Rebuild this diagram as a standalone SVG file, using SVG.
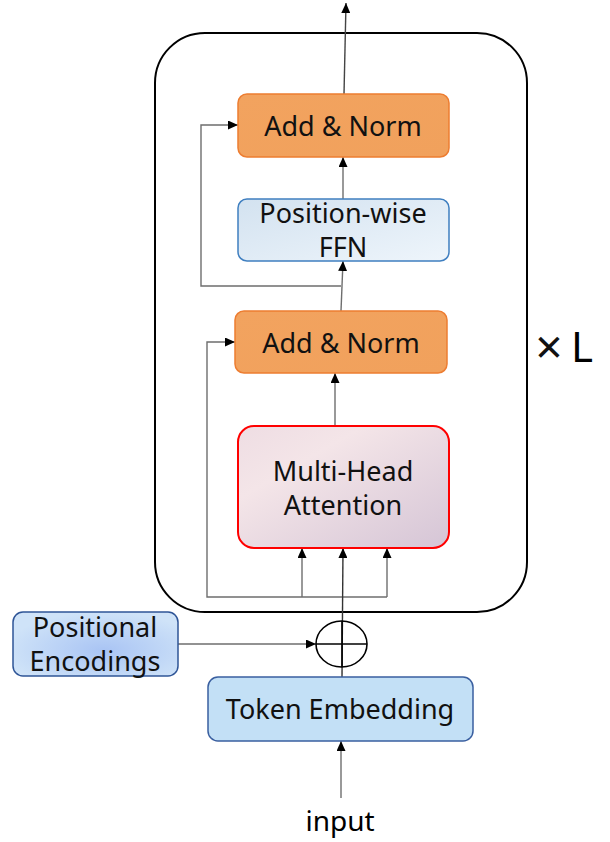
<svg xmlns="http://www.w3.org/2000/svg" width="610" height="842" viewBox="0 0 610 842">
<defs>
<marker id="ah" markerUnits="userSpaceOnUse" markerWidth="10" markerHeight="9" refX="10" refY="4.5" orient="auto"><path d="M0,0 L10,4.5 L0,9 z" fill="#000"/></marker>
<linearGradient id="gOrange" x1="0" y1="0" x2="1" y2="1"><stop offset="0" stop-color="#F2A35F"/><stop offset="1" stop-color="#F1A15C"/></linearGradient>
<linearGradient id="gFFN" x1="0" y1="0" x2="1" y2="1"><stop offset="0" stop-color="#D3E2F0"/><stop offset="1" stop-color="#EEF5FB"/></linearGradient>
<linearGradient id="gMHA" x1="0" y1="0" x2="1" y2="1"><stop offset="0" stop-color="#EEDDE3"/><stop offset="0.3" stop-color="#F4E5E8"/><stop offset="1" stop-color="#D5C5D6"/></linearGradient>
<radialGradient id="gPE" cx="0.55" cy="0.6" r="0.6"><stop offset="0" stop-color="#A9C4F4"/><stop offset="1" stop-color="#CFE3F8"/></radialGradient>
</defs>
<style>
.t{font-family:"Noto Sans","Open Sans","Liberation Sans",sans-serif;font-size:27px;fill:#111;text-anchor:middle}
.c{fill:none;stroke:#6e6e6e;stroke-width:1.4}
.an{fill:url(#gOrange);stroke:#ED7D31;stroke-width:1.5}
</style>
<g id="block">
<rect x="155" y="33" width="372" height="579" rx="50" ry="50" fill="none" stroke="#000" stroke-width="2"/>
</g>
<g id="connectors">
<path class="c" d="M344,94 L346,3" marker-end="url(#ah)" style="stroke:#444"/>
<path class="c" d="M343,199 L343,157" marker-end="url(#ah)"/>
<path class="c" d="M341,311 L343,261" marker-end="url(#ah)"/>
<path class="c" d="M341,286 L201,286 L201,125 L238,125" marker-end="url(#ah)"/>
<path class="c" d="M335,426 L335,373" marker-end="url(#ah)"/>
<path class="c" d="M342,597 L207,597 L207,342 L235,342" marker-end="url(#ah)"/>
<path class="c" d="M342,597 L387,597"/>
<path class="c" d="M302,597 L302,548" marker-end="url(#ah)"/>
<path class="c" d="M387,597 L387,548" marker-end="url(#ah)"/>
<path class="c" d="M342,677 L343,548" marker-end="url(#ah)" style="stroke:#333"/>
<path class="c" d="M178,644 L316,644" marker-end="url(#ah)"/>
<path class="c" d="M341,798 L341,741" marker-end="url(#ah)"/>
</g>
<g id="addnorm-top">
<rect class="an" x="238" y="94" width="211" height="63" rx="9"/>
<text class="t" x="343" y="136">Add &amp; Norm</text>
</g>
<g id="ffn">
<rect x="238" y="199" width="211" height="62" rx="9" fill="url(#gFFN)" stroke="#3F7FC0" stroke-width="1.5"/>
<text class="t" x="343" y="223">Position-wise</text>
<text class="t" x="343" y="257">FFN</text>
</g>
<g id="addnorm-bottom">
<rect class="an" x="235" y="311" width="212" height="62" rx="9"/>
<text class="t" x="341" y="353">Add &amp; Norm</text>
</g>
<g id="mha">
<rect x="238" y="426" width="211" height="122" rx="16" fill="url(#gMHA)" stroke="#FF0000" stroke-width="2"/>
<text class="t" x="343" y="481">Multi-Head</text>
<text class="t" x="343" y="515">Attention</text>
</g>
<g id="sum">
<ellipse cx="341.5" cy="644" rx="25.5" ry="23" fill="none" stroke="#000" stroke-width="1.6"/>
<line x1="316" y1="644" x2="367" y2="644" stroke="#000" stroke-width="1.6"/>
<line x1="342" y1="621" x2="342" y2="667" stroke="#000" stroke-width="1.6"/>
</g>
<g id="pos-enc">
<rect x="13" y="612" width="165" height="64" rx="10" fill="url(#gPE)" stroke="#2F5597" stroke-width="1.5"/>
<text class="t" x="95" y="637">Positional</text>
<text class="t" x="95" y="671">Encodings</text>
</g>
<g id="token-emb">
<rect x="208" y="677" width="265" height="64" rx="10" fill="#C3E0F6" stroke="#3A5FA0" stroke-width="1.5"/>
<text class="t" x="340" y="719">Token Embedding</text>
</g>
<g id="input">
<text class="t" x="340" y="831" style="fill:#000;font-size:28px">input</text>
</g>
<g id="times-L">
<text x="549" y="364" font-family="'Noto Sans','DejaVu Sans',sans-serif" font-size="48" text-anchor="middle" fill="#111">×</text>
<text x="582" y="362" font-family="'Noto Sans','DejaVu Sans',sans-serif" font-size="42" text-anchor="middle" fill="#000">L</text>
</g>
</svg>
